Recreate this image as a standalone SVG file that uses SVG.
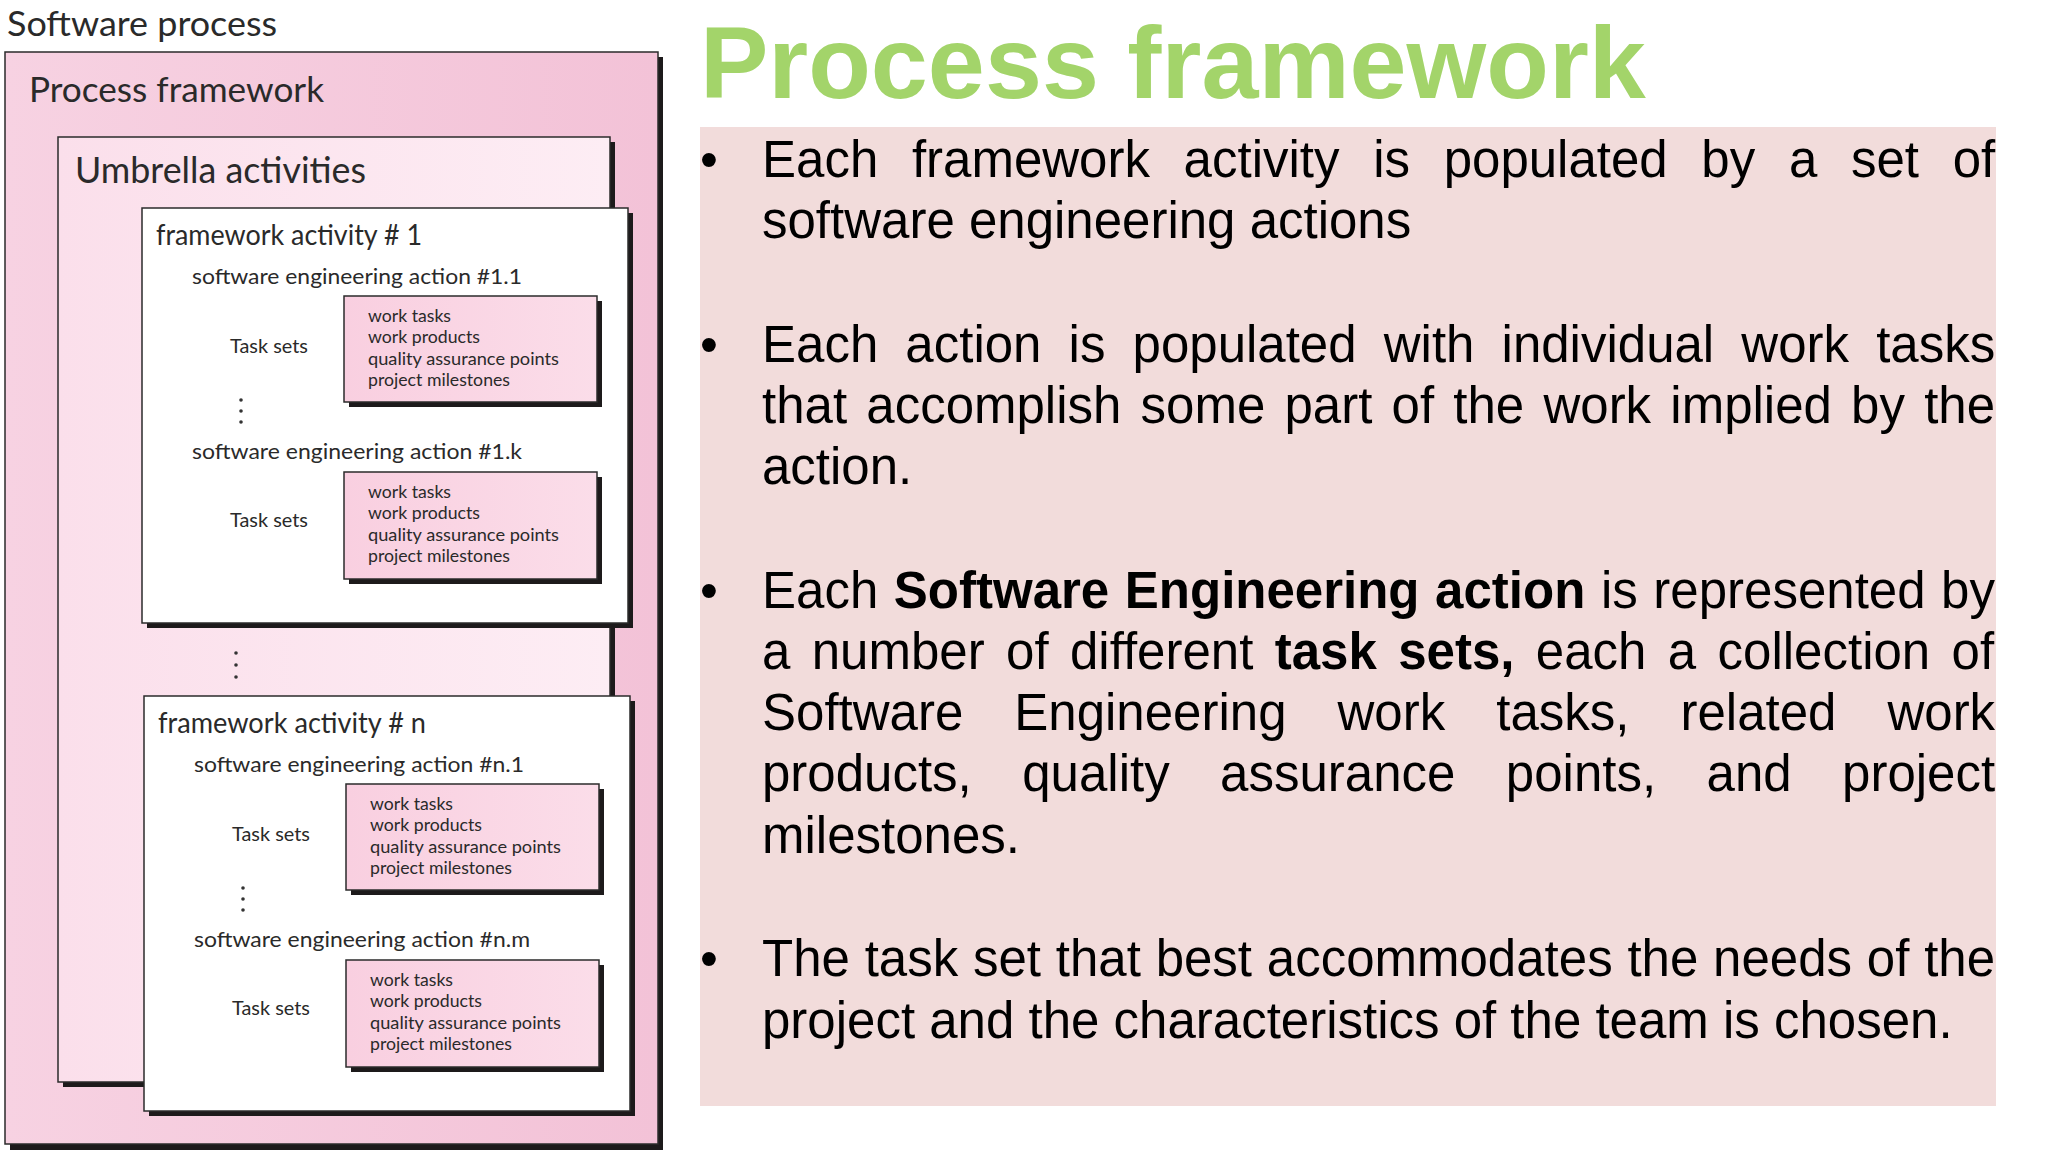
<svg xmlns="http://www.w3.org/2000/svg" width="2048" height="1152" viewBox="0 0 2048 1152">
<defs>
<linearGradient id="gOuter" x1="0" y1="0" x2="1" y2="0"><stop offset="0" stop-color="#f7d2e2"/><stop offset="1" stop-color="#f3c2d7"/></linearGradient>
<linearGradient id="gUmb" x1="0" y1="0" x2="1" y2="0"><stop offset="0" stop-color="#fbdfeb"/><stop offset="1" stop-color="#fdedf4"/></linearGradient>
<linearGradient id="gTask" x1="0" y1="0" x2="1" y2="0"><stop offset="0" stop-color="#f9cfe0"/><stop offset="1" stop-color="#fbdde9"/></linearGradient>
<style>
.shadow{fill:#1d1a1b}
.box{stroke:#2b2b2b;stroke-width:1.5}
.lbl{font-family:Lato,'Liberation Sans',sans-serif;fill:#2a2a2a}
.t1{font-size:34px}
.t2{font-size:36px}
.t3{font-size:28px}
.t4{font-size:22px}
.t5{font-size:19px}
.t6{font-size:16.5px}
.dot{fill:#333}
.body{font-family:'Liberation Sans',Arial,sans-serif;font-size:51px;fill:#000}
.b{font-weight:bold}
</style>
</defs>
<rect width="2048" height="1152" fill="#ffffff"/>

<g id="software-process">
<text class="lbl t1" x="7" y="36" textLength="270" lengthAdjust="spacingAndGlyphs">Software process</text>
</g>

<g id="process-framework-box">
<rect class="shadow" x="10" y="57" width="653" height="1093"/>
<rect class="box" x="5" y="52" width="653" height="1092" fill="url(#gOuter)"/>
<text class="lbl t1" x="29" y="102" textLength="295" lengthAdjust="spacingAndGlyphs">Process framework</text>
</g>

<g id="umbrella-activities">
<rect class="shadow" x="63" y="142" width="552" height="945"/>
<rect class="box" x="58" y="137" width="552" height="945" fill="url(#gUmb)"/>
<text class="lbl t2" x="75" y="183" textLength="291" lengthAdjust="spacingAndGlyphs">Umbrella activities</text>
</g>

<g id="framework-activity-1">
<rect class="shadow" x="147" y="213" width="486" height="415"/>
<rect class="box" x="142" y="208" width="486" height="415" fill="#ffffff"/>
<text class="lbl t3" x="156" y="245" textLength="266" lengthAdjust="spacingAndGlyphs">framework activity # 1</text>
<text class="lbl t4" x="192" y="284" textLength="330" lengthAdjust="spacingAndGlyphs">software engineering action #1.1</text>
<text class="lbl t5" x="230" y="353" textLength="78" lengthAdjust="spacingAndGlyphs">Task sets</text>
<g id="taskset-1-1">
<rect class="shadow" x="349" y="301" width="253" height="106"/>
<rect class="box" x="344" y="296" width="253" height="106" fill="url(#gTask)"/>
<text class="lbl t6" x="368" y="322" textLength="83" lengthAdjust="spacingAndGlyphs">work tasks</text>
<text class="lbl t6" x="368" y="343" textLength="112" lengthAdjust="spacingAndGlyphs">work products</text>
<text class="lbl t6" x="368" y="365" textLength="191" lengthAdjust="spacingAndGlyphs">quality assurance points</text>
<text class="lbl t6" x="368" y="386" textLength="142" lengthAdjust="spacingAndGlyphs">project milestones</text>
</g>
<circle class="dot" cx="241" cy="400" r="1.8"/>
<circle class="dot" cx="241" cy="411" r="1.8"/>
<circle class="dot" cx="241" cy="422" r="1.8"/>
<text class="lbl t4" x="192" y="459" textLength="330" lengthAdjust="spacingAndGlyphs">software engineering action #1.k</text>
<text class="lbl t5" x="230" y="527" textLength="78" lengthAdjust="spacingAndGlyphs">Task sets</text>
<g id="taskset-1-k">
<rect class="shadow" x="349" y="477" width="253" height="107"/>
<rect class="box" x="344" y="472" width="253" height="107" fill="url(#gTask)"/>
<text class="lbl t6" x="368" y="498" textLength="83" lengthAdjust="spacingAndGlyphs">work tasks</text>
<text class="lbl t6" x="368" y="519" textLength="112" lengthAdjust="spacingAndGlyphs">work products</text>
<text class="lbl t6" x="368" y="541" textLength="191" lengthAdjust="spacingAndGlyphs">quality assurance points</text>
<text class="lbl t6" x="368" y="562" textLength="142" lengthAdjust="spacingAndGlyphs">project milestones</text>
</g>
</g>

<g id="ellipsis-activities">
<circle class="dot" cx="236" cy="653" r="1.8"/>
<circle class="dot" cx="236" cy="665" r="1.8"/>
<circle class="dot" cx="236" cy="677" r="1.8"/>
</g>

<g id="framework-activity-n" transform="translate(2,488)">
<rect class="shadow" x="147" y="213" width="486" height="415"/>
<rect class="box" x="142" y="208" width="486" height="415" fill="#ffffff"/>
<text class="lbl t3" x="156" y="245" textLength="268" lengthAdjust="spacingAndGlyphs">framework activity # n</text>
<text class="lbl t4" x="192" y="284" textLength="330" lengthAdjust="spacingAndGlyphs">software engineering action #n.1</text>
<text class="lbl t5" x="230" y="353" textLength="78" lengthAdjust="spacingAndGlyphs">Task sets</text>
<g id="taskset-n-1">
<rect class="shadow" x="349" y="301" width="253" height="106"/>
<rect class="box" x="344" y="296" width="253" height="106" fill="url(#gTask)"/>
<text class="lbl t6" x="368" y="322" textLength="83" lengthAdjust="spacingAndGlyphs">work tasks</text>
<text class="lbl t6" x="368" y="343" textLength="112" lengthAdjust="spacingAndGlyphs">work products</text>
<text class="lbl t6" x="368" y="365" textLength="191" lengthAdjust="spacingAndGlyphs">quality assurance points</text>
<text class="lbl t6" x="368" y="386" textLength="142" lengthAdjust="spacingAndGlyphs">project milestones</text>
</g>
<circle class="dot" cx="241" cy="400" r="1.8"/>
<circle class="dot" cx="241" cy="411" r="1.8"/>
<circle class="dot" cx="241" cy="422" r="1.8"/>
<text class="lbl t4" x="192" y="459" textLength="336" lengthAdjust="spacingAndGlyphs">software engineering action #n.m</text>
<text class="lbl t5" x="230" y="527" textLength="78" lengthAdjust="spacingAndGlyphs">Task sets</text>
<g id="taskset-n-m">
<rect class="shadow" x="349" y="477" width="253" height="107"/>
<rect class="box" x="344" y="472" width="253" height="107" fill="url(#gTask)"/>
<text class="lbl t6" x="368" y="498" textLength="83" lengthAdjust="spacingAndGlyphs">work tasks</text>
<text class="lbl t6" x="368" y="519" textLength="112" lengthAdjust="spacingAndGlyphs">work products</text>
<text class="lbl t6" x="368" y="541" textLength="191" lengthAdjust="spacingAndGlyphs">quality assurance points</text>
<text class="lbl t6" x="368" y="562" textLength="142" lengthAdjust="spacingAndGlyphs">project milestones</text>
</g>
</g>

<g id="connectors"/>

<g id="title">
<text x="700" y="98" font-family="'Liberation Sans',Arial,sans-serif" font-size="102.5" font-weight="bold" fill="#a3d46a">Process framework</text>
</g>

<g id="bullet-panel">
<rect x="700" y="127" width="1296" height="979" fill="#f2dcdb"/>
<g class="body">
<text x="700" y="177">•</text>
<text x="700" y="362">•</text>
<text x="700" y="608">•</text>
<text x="700" y="976">•</text>

<text x="762" y="177" word-spacing="19.5">Each framework activity is populated by a set of</text>
<text x="762" y="238">software engineering actions</text>

<text x="762" y="362" word-spacing="12.96">Each action is populated with individual work tasks</text>
<text x="762" y="423" word-spacing="5.04">that accomplish some part of the work implied by the</text>
<text x="762" y="484">action.</text>

<text x="762" y="608" word-spacing="1.43">Each <tspan class="b">Software Engineering action</tspan> is represented by</text>
<text x="762" y="669" word-spacing="7.22">a number of different <tspan class="b">task sets,</tspan> each a collection of</text>
<text x="762" y="730" word-spacing="36.86">Software Engineering work tasks, related work</text>
<text x="762" y="791" word-spacing="36.27">products, quality assurance points, and project</text>
<text x="762" y="853">milestones.</text>

<text x="762" y="976" word-spacing="0.61">The task set that best accommodates the needs of the</text>
<text x="762" y="1038">project and the characteristics of the team is chosen.</text>
</g>
</g>
</svg>
